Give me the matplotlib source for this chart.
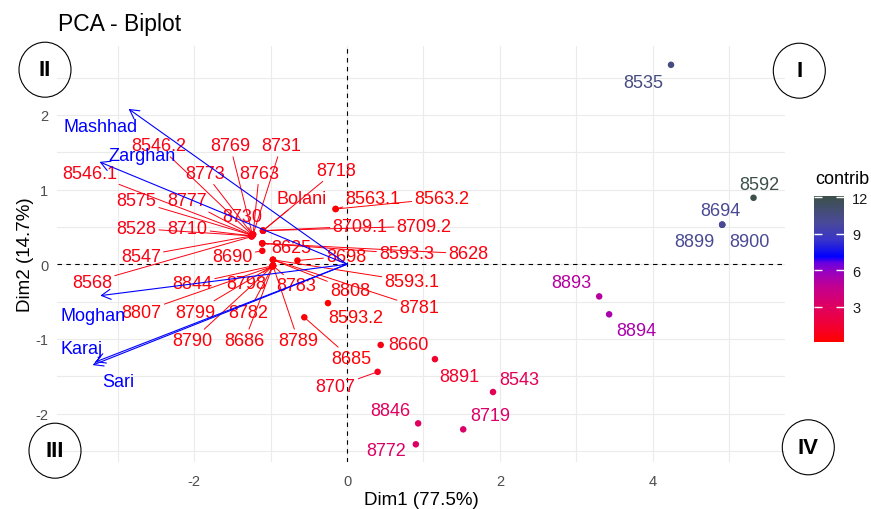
import matplotlib
matplotlib.use("Agg")
import matplotlib.pyplot as plt
from matplotlib.colors import LinearSegmentedColormap, Normalize
from matplotlib.patches import Ellipse

plt.rcParams["font.family"] = ["Liberation Sans", "DejaVu Sans"]
plt.rcParams["axes.unicode_minus"] = False

# Individuals: coordinates on Dim1 / Dim2 and their contribution
ind_names = [
    "8546.2", "8769", "8731", "8773", "8763", "8546.1", "8575", "8777",
    "8730", "8528", "8710", "8547", "8568",
    "8718", "Bolani", "8709.1", "8709.2",
    "8625", "8593.3", "8628",
    "8690",
    "8844", "8798", "8783", "8807", "8799", "8782", "8790", "8686", "8789",
    "8808", "8781", "8593.1",
    "8698",
    "8563.1", "8563.2",
    "8593.2",
    "8685",
    "8707", "8660", "8891", "8543", "8846", "8719", "8772",
    "8893", "8894", "8535", "8592", "8694", "8899", "8900",
]
ind_x = [
    -1.24, -1.24, -1.23, -1.24, -1.23, -1.25, -1.25, -1.24,
    -1.24, -1.25, -1.24, -1.25, -1.25,
    -1.10, -1.10, -1.10, -1.10,
    -1.11, -1.11, -1.11,
    -1.11,
    -0.97, -0.97, -0.97, -0.98, -0.97, -0.97, -0.98, -0.97, -0.97,
    -0.97, -0.97, -0.97,
    -0.65,
    -0.15, -0.15,
    -0.25,
    -0.56,
    0.40, 0.44, 1.15, 1.91, 0.93, 1.52, 0.90,
    3.30, 3.43, 4.24, 5.32, 4.91, 4.91, 4.91,
]
ind_y = [
    0.39, 0.40, 0.40, 0.40, 0.40, 0.39, 0.39, 0.39,
    0.40, 0.38, 0.38, 0.38, 0.37,
    0.45, 0.45, 0.45, 0.45,
    0.28, 0.28, 0.28,
    0.18,
    -0.02, -0.02, -0.02, -0.03, -0.02, -0.02, -0.03, -0.02, -0.02,
    0.06, 0.06, 0.06,
    0.05,
    0.74, 0.74,
    -0.52,
    -0.71,
    -1.44, -1.08, -1.27, -1.71, -2.13, -2.21, -2.41,
    -0.43, -0.67, 2.67, 0.89, 0.53, 0.53, 0.53,
]
ind_contrib = [
    0.62, 0.64, 0.60, 0.63, 0.60, 0.66, 0.66, 0.63,
    0.62, 0.65, 0.63, 0.64, 0.65,
    0.55, 0.55, 0.55, 0.55,
    0.50, 0.50, 0.50,
    0.45,
    0.35, 0.35, 0.35, 0.36, 0.35, 0.35, 0.36, 0.35, 0.35,
    0.34, 0.34, 0.34,
    0.20,
    0.25, 0.25,
    0.13,
    0.30,
    0.95, 0.65, 1.30, 2.70, 2.90, 3.30, 3.20,
    5.00, 5.30, 10.60, 12.13, 10.10, 10.10, 10.10,
]

# Repelled label positions for the individuals
label_x = [
    -2.47, -1.53, -0.86, -1.86, -1.15, -3.37, -2.76, -2.09,
    -1.37, -2.76, -2.09, -2.70, -3.34,
    -0.14, -0.59, 0.17, 1.01,
    -0.73, 0.78, 1.59,
    -1.50,
    -2.03, -1.32, -0.66, -2.69, -1.99, -1.29, -2.03, -1.34, -0.64,
    0.04, 0.95, 0.85,
    -0.01,
    0.34, 1.24,
    0.12,
    0.05,
    -0.15, 0.80, 1.47, 2.25, 0.57, 1.87, 0.51,
    2.94, 3.78, 3.88, 5.40, 4.89, 4.55, 5.26,
]
label_y = [
    1.59, 1.59, 1.59, 1.22, 1.22, 1.22, 0.85, 0.85,
    0.64, 0.48, 0.48, 0.11, -0.24,
    1.26, 0.88, 0.51, 0.51,
    0.23, 0.14, 0.14,
    0.11,
    -0.26, -0.26, -0.29, -0.64, -0.64, -0.64, -1.02, -1.02, -1.02,
    -0.35, -0.58, -0.23,
    0.11,
    0.88, 0.88,
    -0.71,
    -1.26,
    -1.64, -1.08, -1.50, -1.54, -1.96, -2.03, -2.49,
    -0.25, -0.89, 2.44, 1.07, 0.72, 0.30, 0.30,
]
no_segment = {"8593.2", "8660", "8891", "8543", "8846", "8719", "8772",
              "8893", "8894", "8535", "8592", "8694", "8899", "8900"}

# Variables (arrows from the origin)
var_names = ["Mashhad", "Zarghan", "Moghan", "Karaj", "Sari"]
var_x = [-2.86, -3.24, -3.23, -3.30, -3.33]
var_y = [2.08, 1.37, -0.42, -1.31, -1.35]
var_label_x = [-3.23, -2.69, -3.32, -3.47, -2.99]
var_label_y = [1.85, 1.46, -0.68, -1.13, -1.57]

W, H = 871, 510
fig = plt.figure(figsize=(W / 100, H / 100), dpi=100)
ax = fig.add_axes([57.3 / W, 1 - 463.3 / H, (785 - 57.3) / W, (463.3 - 46.7) / H])

ax.set_xlim(-3.793, 5.732)
ax.set_ylim(-2.651, 2.926)
ax.set_xticks([-2, 0, 2, 4])
ax.set_xticks([-3, -1, 1, 3, 5], minor=True)
ax.set_yticks([-2, -1, 0, 1, 2])
ax.set_yticks([-2.5, -1.5, -0.5, 0.5, 1.5, 2.5], minor=True)
ax.grid(which="both", color="#EBEBEB", lw=0.8)
ax.set_axisbelow(True)
for s in ax.spines.values():
    s.set_visible(False)
ax.tick_params(which="both", length=0, labelsize=10.5, labelcolor="#4D4D4D")
ax.tick_params(axis="x", pad=8.5)
ax.tick_params(axis="y", pad=6.5)

ax.axhline(0, color="black", lw=0.8, ls=(0, (4, 4)), zorder=1.5)
ax.axvline(0, color="black", lw=0.8, ls=(0, (4, 4)), zorder=1.5)

stops = [
    (0.00, "#FF0000"),
    (0.12, "#F00038"),
    (0.25, "#DD0063"),
    (0.37, "#C4008E"),
    (0.47, "#9C00BC"),
    (0.54, "#6A00E0"),
    (0.5825, "#0000FF"),
    (0.70, "#3A35C8"),
    (0.82, "#4A4A98"),
    (1.00, "#3C5048"),
]
cmap = LinearSegmentedColormap.from_list("contrib", stops)
norm = Normalize(vmin=min(ind_contrib), vmax=max(ind_contrib))

sc = ax.scatter(ind_x, ind_y, c=ind_contrib, cmap=cmap, norm=norm,
                s=22, linewidths=0, zorder=3)

for name, x, y, lx, ly, c in zip(ind_names, ind_x, ind_y, label_x, label_y, ind_contrib):
    col = cmap(norm(c))
    if name in no_segment:
        ax.text(lx, ly, name, color=col, fontsize=13, ha="center", va="center", zorder=4)
    else:
        ax.annotate(name, xy=(x, y), xytext=(lx, ly), color=col, fontsize=13,
                    ha="center", va="center", zorder=4,
                    arrowprops=dict(arrowstyle="-", color=col, lw=0.7,
                                    shrinkA=0, shrinkB=0))

for name, x, y, lx, ly in zip(var_names, var_x, var_y, var_label_x, var_label_y):
    ax.annotate("", xy=(x, y), xytext=(0, 0), zorder=5,
                arrowprops=dict(arrowstyle="->,head_length=0.55,head_width=0.3",
                                color="blue", lw=0.8, mutation_scale=12,
                                shrinkA=0, shrinkB=0))
    ax.text(lx, ly, name, color="blue", fontsize=13, ha="center", va="center", zorder=5)

ax.set_xlabel("Dim1 (77.5%)", fontsize=13.5, labelpad=2)
ax.set_ylabel("Dim2 (14.7%)", fontsize=13.5, labelpad=1)

# quadrant markers
for cx, cy, txt in [(45, 70.7, "II"), (799.3, 71.7, "I"),
                    (55, 451.7, "III"), (808.3, 448.3, "IV")]:
    fig.add_artist(Ellipse((cx / W, 1 - cy / H), 52 / W, 55 / H,
                           transform=fig.transFigure, fill=False,
                           ec="black", lw=0.8))
    fig.text(cx / W, 1 - cy / H, txt, ha="center", va="center",
             fontsize=16, fontweight="bold")

fig.text(58 / W, 1 - 25 / H, "PCA - Biplot", fontsize=16.5, va="center")

cax = fig.add_axes([814.3 / W, 1 - 342.7 / H, 29.7 / W, 146 / H])
cb = fig.colorbar(sc, cax=cax, ticks=[3, 6, 9, 12])
cb.outline.set_visible(False)
cax.yaxis.set_ticks_position("both")
cax.tick_params(direction="in", length=6, width=1, color="white",
                labelleft=False, labelright=True, labelsize=10.5,
                labelcolor="#1A1A1A", pad=6)
fig.text(815 / W, 1 - 180 / H, "contrib", fontsize=13, va="center", ha="left")

fig.savefig("out.png", dpi=100)
